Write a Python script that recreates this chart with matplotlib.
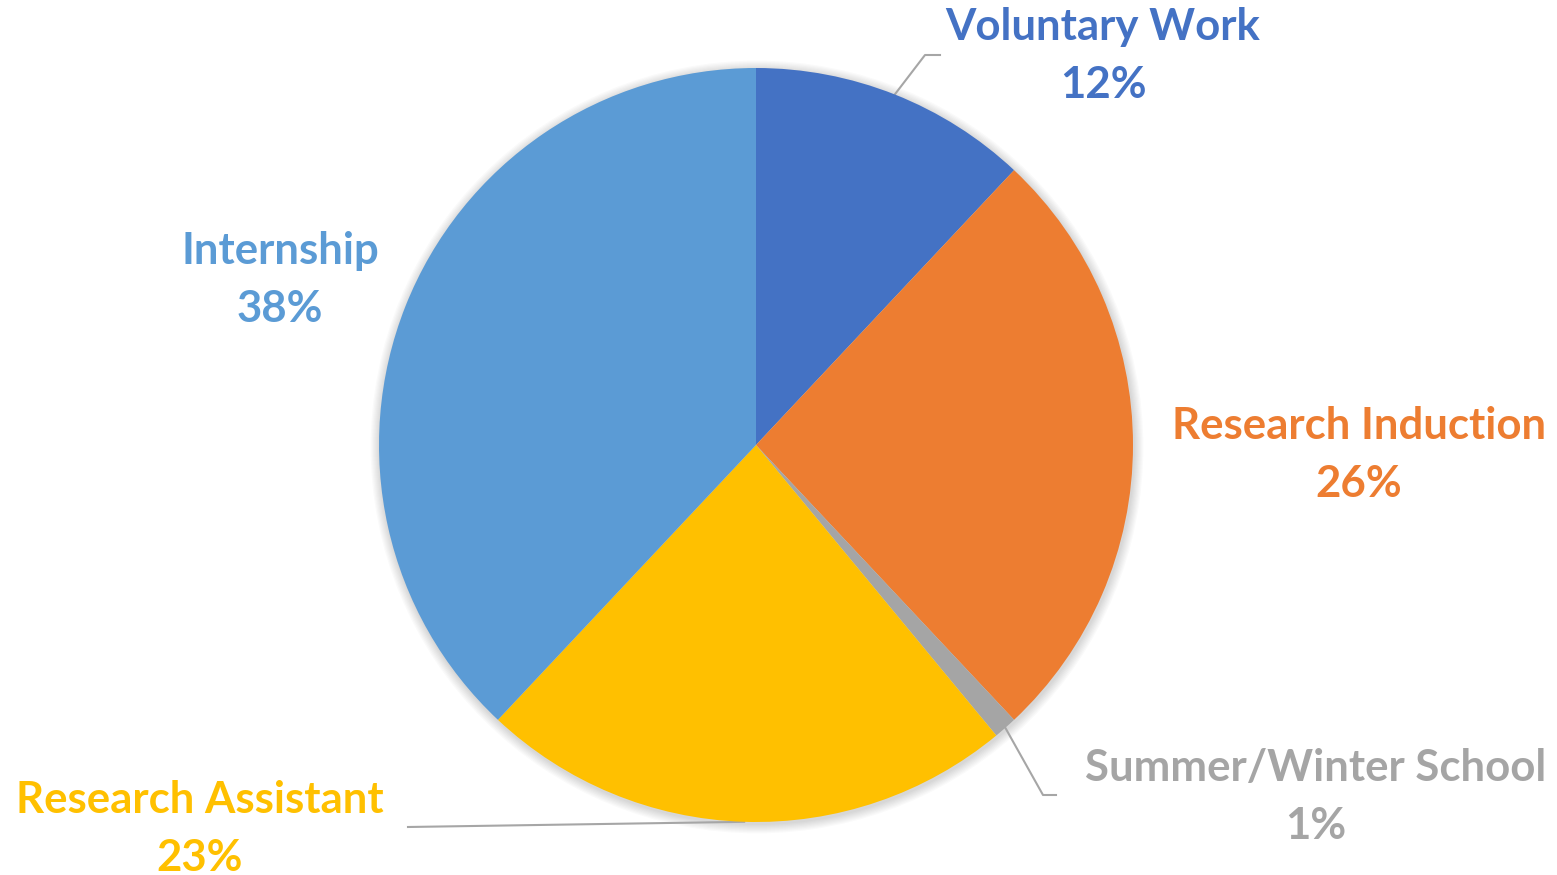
import numpy as np
import matplotlib.pyplot as plt
from matplotlib.patches import Circle

categories = ["Voluntary Work", "Research Induction", "Summer/Winter School",
              "Research Assistant", "Internship"]
shares = [12, 26, 1, 23, 38]
colors = ["#4472C4", "#ED7D31", "#A5A5A5", "#FFC000", "#5B9BD5"]

W, H = 1557, 875
fig = plt.figure(figsize=(W / 100, H / 100), dpi=100)
ax = fig.add_axes([0, 0, 1, 1])
ax.set_xlim(0, W)
ax.set_ylim(0, H)
ax.set_aspect("equal")
ax.axis("off")

cx, cy, r = 756, H - 445, 377

# soft shadow under the pie
for k in range(8):
    ax.add_patch(Circle((cx + 1, cy - 2), r + 1 + k * 1.2, color="black",
                        alpha=0.018, lw=0, zorder=0))

wedges, _ = ax.pie(shares, colors=colors, startangle=90, counterclock=False,
                   center=(cx, cy), radius=r, frame=True,
                   wedgeprops=dict(linewidth=0))
ax.set_xlim(0, W)
ax.set_ylim(0, H)
ax.axis("off")

# label centres (x, y of first line) and leader line elbows
label_pos = {
    "Voluntary Work": (1103, 27),
    "Research Induction": (1359, 426),
    "Summer/Winter School": (1316, 768),
    "Research Assistant": (200, 800),
    "Internship": (280, 251),
}
leaders = {
    "Voluntary Work": [(925, 55), (940, 55)],
    "Summer/Winter School": [(1043, 795), (1056, 795)],
    "Research Assistant": [(408, 827)],
}

for w, name, val, col in zip(wedges, categories, shares, colors):
    lx, ly = label_pos[name]
    ax.text(lx, H - ly, name, color=col, fontsize=31.5, fontweight="bold",
            family="Lato", ha="center", va="center")
    ax.text(lx, H - ly - 58, f"{val}%", color=col, fontsize=31.5,
            fontweight="bold", family="Lato", ha="center", va="center")
    if name in leaders:
        mid = np.deg2rad((w.theta1 + w.theta2) / 2)
        px = [cx + r * np.cos(mid)] + [p[0] for p in leaders[name]]
        py = [cy + r * np.sin(mid)] + [H - p[1] for p in leaders[name]]
        ax.plot(px, py, color="#A6A6A6", lw=1.5, zorder=0.5)

fig.savefig("out.png", dpi=100, facecolor="white")
